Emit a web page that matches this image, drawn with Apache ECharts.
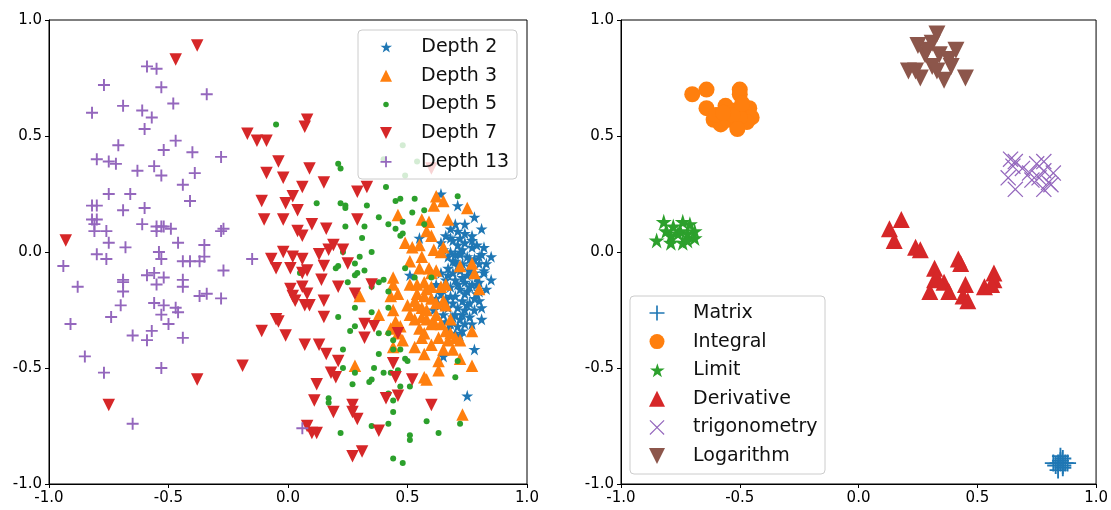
<!DOCTYPE html>
<html><head><meta charset="utf-8">
<script src="https://cdn.jsdelivr.net/npm/echarts@6/dist/echarts.min.js"></script>
<style>html,body{margin:0;padding:0;background:#fff}#c{width:1111px;height:510px}</style>
</head><body><div id="c"></div><script>
const ticks = [-1.0, -0.5, 0.0, 0.5, 1.0];

const depth2 = [[0.64,0.25],[0.71,0.20],[0.78,0.15],[0.81,0.10],[0.70,0.12],[0.74,0.12],[0.55,0.06],[0.68,0.06],[0.72,0.06],[0.77,0.05],[0.82,0.02],[0.85,-0.02],[0.85,-0.12],[0.82,-0.08],[0.69,-0.04],[0.51,-0.10],[0.80,-0.17],[0.81,-0.29],[0.78,-0.42],[0.65,-0.45],[0.75,-0.62],
[0.66,0.07],[0.69,0.05],[0.71,0.03],[0.74,0.04],[0.77,0.02],[0.79,0.03],[0.68,0.00],[0.72,-0.01],[0.75,-0.02],[0.78,-0.03],[0.81,-0.01],[0.70,-0.04],[0.73,-0.05],[0.76,-0.06],[0.80,-0.05],[0.67,-0.07],[0.69,-0.09],[0.72,-0.08],[0.75,-0.10],[0.78,-0.09],[0.82,-0.09],[0.66,-0.12],[0.70,-0.12],[0.74,-0.13],[0.77,-0.14],[0.80,-0.13],[0.68,-0.15],[0.72,-0.16],[0.75,-0.17],[0.79,-0.18],[0.64,-0.18],[0.66,-0.20],[0.70,-0.19],[0.73,-0.21],[0.76,-0.22],[0.80,-0.21],[0.63,-0.23],[0.67,-0.24],[0.71,-0.24],[0.74,-0.25],[0.78,-0.25],[0.65,-0.27],[0.69,-0.28],[0.72,-0.29],[0.76,-0.28],[0.68,-0.31],[0.71,-0.32],[0.74,-0.31],[0.70,-0.35],[0.73,-0.34],[0.62,-0.20],[0.67,-0.02],[0.74,0.08],[0.71,0.09],[0.77,0.07],[0.64,0.04],[0.83,-0.16],[0.81,-0.24],[0.66,-0.30],[0.69,-0.22],[0.73,-0.11],[0.76,-0.15],[0.71,-0.06],[0.79,-0.11],[0.64,-0.09],
[0.68,0.10],[0.73,0.01],[0.76,-0.03],[0.70,-0.01],[0.67,-0.10],[0.71,-0.14],[0.74,-0.18],[0.78,-0.20],[0.68,-0.19],[0.65,-0.22],[0.70,-0.27],[0.73,-0.27],[0.77,-0.31],[0.67,-0.33],[0.72,-0.36],[0.80,-0.02],[0.83,-0.05],[0.62,-0.14],[0.61,-0.25],[0.75,-0.23],[0.79,-0.14],[0.72,0.00],[0.65,0.01],[0.76,-0.08]];

const depth3 = [[0.62,0.24],[0.65,0.22],[0.61,0.20],[0.75,0.19],[0.46,0.16],[0.56,0.14],[0.59,0.13],[0.67,0.14],[0.49,0.04],[0.52,0.02],[0.55,0.03],[0.58,0.09],[0.60,0.07],[0.61,0.01],[0.65,0.02],[0.64,0.00],[0.51,-0.04],[0.56,-0.02],[0.59,-0.07],[0.60,-0.09],[0.62,-0.08],[0.72,-0.06],[0.77,-0.05],[0.78,-0.09],[0.44,-0.11],[0.44,-0.14],[0.51,-0.14],[0.54,-0.14],[0.57,-0.13],[0.64,-0.15],[0.66,-0.14],[0.80,-0.16],[0.30,-0.19],[0.43,-0.19],[0.46,-0.18],[0.54,-0.18],[0.57,-0.19],[0.60,-0.20],[0.62,-0.22],[0.65,-0.21],[0.54,-0.23],[0.56,-0.24],[0.44,-0.25],[0.38,-0.27],[0.51,-0.27],[0.53,-0.29],[0.56,-0.28],[0.58,-0.29],[0.62,-0.27],[0.61,-0.30],[0.64,-0.31],[0.45,-0.30],[0.57,-0.35],[0.48,-0.38],[0.53,-0.41],[0.56,-0.37],[0.63,-0.37],[0.67,-0.38],[0.72,-0.38],[0.77,-0.34],[0.70,-0.37],[0.69,-0.42],[0.57,-0.44],[0.63,-0.47],[0.72,-0.46],[0.77,-0.49],[0.63,-0.51],[0.28,-0.49],[0.58,-0.55],[0.57,-0.54],[0.73,-0.70],[0.44,-0.41],[0.46,-0.35],[0.43,-0.33],[0.58,-0.25],[0.68,-0.35],[0.65,-0.42],[0.60,-0.31],[0.66,-0.34],
[0.55,-0.07],[0.58,-0.16],[0.53,-0.21],[0.60,-0.15],[0.50,-0.23],[0.47,-0.32],[0.55,-0.33],[0.60,-0.40],[0.68,-0.29],[0.66,-0.23]];

const depth5 = [[-0.05,0.55],[0.21,0.38],[0.22,0.36],[0.41,0.28],[0.53,0.23],[0.45,0.22],[0.47,0.23],[0.71,0.24],[0.12,0.21],[0.22,0.21],[0.24,0.20],[0.24,0.19],[0.33,0.20],[0.52,0.17],[0.57,0.18],[0.38,0.15],[0.42,0.12],[0.48,0.13],[0.57,0.12],[0.24,0.11],[0.32,0.11],[0.45,0.10],[0.47,0.07],[0.48,0.08],[0.31,0.06],[0.35,0.00],[0.23,0.00],[0.30,-0.02],[0.28,-0.05],[0.32,-0.08],[0.20,-0.07],[0.21,-0.06],[0.29,-0.09],[0.28,-0.10],[0.25,-0.13],[0.38,-0.13],[0.40,-0.12],[0.35,-0.15],[0.49,-0.07],[0.60,-0.11],[0.53,-0.11],[0.42,-0.17],[0.42,-0.24],[0.28,-0.24],[0.35,-0.26],[0.21,-0.28],[0.28,-0.32],[0.26,-0.34],[0.42,-0.35],[0.38,-0.35],[0.44,-0.38],[0.44,-0.42],[0.47,-0.42],[0.23,-0.42],[0.38,-0.44],[0.49,-0.46],[0.50,-0.47],[0.71,-0.47],[0.23,-0.50],[0.36,-0.50],[0.28,-0.52],[0.40,-0.52],[0.43,-0.52],[0.46,-0.51],[0.35,-0.55],[0.34,-0.56],[0.47,-0.58],[0.51,-0.58],[0.70,-0.54],[0.27,-0.57],[0.42,-0.61],[0.44,-0.64],[0.17,-0.63],[0.17,-0.65],[0.44,-0.69],[0.42,-0.74],[0.35,-0.75],[0.22,-0.78],[0.58,-0.73],[0.72,-0.74],[0.51,-0.79],[0.51,-0.81],[0.63,-0.78],[0.44,-0.89],[0.48,-0.91],[0.05,-0.09],[0.48,0.46],[0.40,0.40],[0.49,0.33],[0.54,0.39]];

const depth7 = [[-0.38,0.89],[-0.47,0.83],[-0.17,0.51],[-0.13,0.48],[-0.09,0.48],[0.08,0.57],[0.07,0.54],[-0.04,0.39],[0.09,0.36],[-0.09,0.34],[-0.02,0.32],[0.15,0.30],[0.06,0.28],[0.29,0.26],[0.33,0.28],[-0.11,0.22],[-0.01,0.21],[0.02,0.24],[0.04,0.18],[-0.10,0.14],[-0.02,0.14],[0.10,0.12],[0.04,0.09],[0.06,0.07],[0.16,0.10],[0.29,0.14],[0.19,0.03],[0.23,0.01],[0.17,0.01],[-0.07,-0.03],[-0.02,0.00],[0.02,-0.02],[0.06,-0.03],[0.13,-0.01],[-0.05,-0.07],[0.01,-0.07],[0.06,-0.09],[0.08,-0.08],[0.15,-0.06],[0.25,-0.05],[0.35,-0.14],[0.21,-0.15],[0.14,-0.12],[0.01,-0.16],[0.06,-0.15],[0.02,-0.19],[0.08,-0.18],[0.15,-0.21],[0.03,-0.21],[0.07,-0.23],[0.09,-0.23],[0.28,-0.18],[0.15,-0.28],[-0.05,-0.29],[-0.04,-0.30],[-0.11,-0.34],[-0.01,-0.36],[0.32,-0.31],[0.36,-0.32],[0.32,-0.37],[0.07,-0.40],[0.13,-0.40],[0.16,-0.44],[0.46,-0.35],[0.44,-0.48],[0.21,-0.47],[0.18,-0.52],[0.20,-0.54],[0.45,-0.54],[0.52,-0.55],[0.12,-0.57],[0.11,-0.64],[0.19,-0.69],[0.27,-0.66],[0.27,-0.69],[0.29,-0.72],[0.41,-0.63],[0.46,-0.62],[0.60,-0.66],[0.38,-0.77],[0.08,-0.75],[0.10,-0.78],[0.12,-0.78],[0.27,-0.88],[0.31,-0.86],[-0.38,-0.55],[-0.19,-0.49],[-0.75,-0.66],[-0.93,0.05],[0.60,0.36]];

const depth13 = [[-0.59,0.80],[-0.55,0.79],[-0.77,0.72],[-0.53,0.71],[-0.34,0.68],[-0.48,0.64],[-0.69,0.63],[-0.82,0.60],[-0.61,0.61],[-0.57,0.58],[-0.60,0.53],[-0.47,0.48],[-0.71,0.46],[-0.52,0.44],[-0.40,0.43],[-0.28,0.41],[-0.80,0.40],[-0.75,0.39],[-0.72,0.38],[-0.63,0.35],[-0.56,0.37],[-0.53,0.33],[-0.39,0.34],[-0.44,0.29],[-0.75,0.25],[-0.66,0.25],[-0.41,0.22],[-0.82,0.20],[-0.80,0.20],[-0.60,0.19],[-0.69,0.18],[-0.82,0.14],[-0.80,0.14],[-0.81,0.12],[-0.61,0.12],[-0.55,0.11],[-0.52,0.11],[-0.49,0.10],[-0.28,0.09],[-0.27,0.10],[-0.81,0.09],[-0.76,0.09],[-0.75,0.04],[-0.53,0.11],[-0.55,0.09],[-0.46,0.04],[-0.68,0.02],[-0.35,0.03],[-0.54,0.00],[-0.80,-0.01],[-0.76,-0.03],[-0.53,-0.03],[-0.44,-0.04],[-0.41,-0.04],[-0.37,-0.04],[-0.35,-0.02],[-0.94,-0.06],[-0.15,-0.03],[-0.27,-0.08],[-0.69,-0.12],[-0.69,-0.13],[-0.52,-0.11],[-0.59,-0.10],[-0.56,-0.09],[-0.44,-0.12],[-0.69,-0.17],[-0.88,-0.15],[-0.55,-0.14],[-0.44,-0.15],[-0.34,-0.18],[-0.37,-0.19],[-0.28,-0.20],[-0.56,-0.22],[-0.52,-0.23],[-0.47,-0.24],[-0.46,-0.26],[-0.70,-0.23],[-0.53,-0.27],[-0.50,-0.31],[-0.74,-0.28],[-0.91,-0.31],[-0.57,-0.34],[-0.65,-0.36],[-0.59,-0.38],[-0.44,-0.37],[-0.85,-0.45],[-0.77,-0.52],[-0.53,-0.50],[-0.65,-0.74],[0.06,-0.76]];

const matrix = [[0.84,-0.91],[0.85,-0.90],[0.86,-0.92],[0.83,-0.92],[0.87,-0.91],[0.82,-0.91],[0.85,-0.88],[0.86,-0.93],[0.84,-0.94],[0.88,-0.91],[0.85,-0.91],[0.86,-0.89]];
const integral = [[-0.70,0.68],[-0.64,0.70],[-0.50,0.70],[-0.50,0.68],[-0.64,0.62],[-0.56,0.63],[-0.46,0.62],[-0.45,0.58],[-0.52,0.61],[-0.61,0.57],[-0.58,0.55],[-0.55,0.57],[-0.51,0.54],[-0.47,0.56],[-0.50,0.58],[-0.53,0.59],[-0.60,0.59],[-0.57,0.60],[-0.49,0.64],[-0.51,0.53]];
const limit = [[-0.85,0.05],[-0.82,0.13],[-0.79,0.07],[-0.79,0.04],[-0.74,0.13],[-0.74,0.04],[-0.71,0.12],[-0.69,0.06],[-0.69,0.09],[-0.76,0.08],[-0.72,0.08],[-0.75,0.09],[-0.72,0.05],[-0.81,0.09],[-0.78,0.11]];
const derivative = [[0.13,0.10],[0.18,0.14],[0.15,0.05],[0.24,0.02],[0.26,0.01],[0.32,-0.07],[0.42,-0.03],[0.43,-0.05],[0.30,-0.17],[0.32,-0.12],[0.36,-0.13],[0.38,-0.17],[0.45,-0.14],[0.44,-0.19],[0.46,-0.21],[0.53,-0.15],[0.57,-0.09],[0.57,-0.12],[0.56,-0.14],[0.33,-0.11]];
const trig = [[0.64,0.40],[0.66,0.39],[0.65,0.37],[0.66,0.27],[0.63,0.32],[0.72,0.34],[0.75,0.38],[0.78,0.39],[0.78,0.35],[0.76,0.32],[0.80,0.30],[0.78,0.27],[0.81,0.29],[0.82,0.34],[0.73,0.31],[0.69,0.36]];
const logarithm = [[0.33,0.94],[0.25,0.89],[0.31,0.90],[0.41,0.87],[0.28,0.85],[0.34,0.85],[0.38,0.83],[0.21,0.78],[0.26,0.75],[0.31,0.80],[0.33,0.78],[0.36,0.74],[0.45,0.75],[0.39,0.80],[0.24,0.78],[0.29,0.87]];

const STAR = 'path://M0,-10 L2.245,-3.09 L9.511,-3.09 L3.633,1.18 L5.878,8.09 L0,3.82 L-5.878,8.09 L-3.633,1.18 L-9.511,-3.09 L-2.245,-3.09 Z';
const TRI_UP = 'path://M0,-10 L10,10 L-10,10 Z';
const TRI_DOWN = 'path://M-10,-10 L10,-10 L0,10 Z';
function plusPath(h){return `path://M${-h},-10 L${h},-10 L${h},${-h} L10,${-h} L10,${h} L${h},${h} L${h},10 L${-h},10 L${-h},${h} L-10,${h} L-10,${-h} L${-h},${-h} Z`;}
function xPath(a){return `path://M${-10+a},-10 L0,${-a} L${10-a},-10 L10,${-10+a} L${a},0 L10,${10-a} L${10-a},10 L0,${a} L${-10+a},10 L-10,${10-a} L${-a},0 L-10,${-10+a} Z`;}

const F = 'DejaVu Sans';
const leftItems = [
  {name:'Depth 2', data:depth2, symbol:STAR, size:12, lsize:11, color:'#1f77b4'},
  {name:'Depth 3', data:depth3, symbol:TRI_UP, size:12.5, lsize:12, color:'#ff7f0e'},
  {name:'Depth 5', data:depth5, symbol:'circle', size:6, lsize:5.5, color:'#2ca02c'},
  {name:'Depth 7', data:depth7, symbol:TRI_DOWN, size:12.5, lsize:12, color:'#d62728'},
  {name:'Depth 13', data:depth13, symbol:plusPath(1.6), size:12, lsize:11, color:'#9467bd'}
];
const rightItems = [
  {name:'Matrix', data:matrix, symbol:plusPath(1.1), size:17, lsize:15, color:'#1f77b4'},
  {name:'Integral', data:integral, symbol:'circle', size:16, lsize:15, color:'#ff7f0e'},
  {name:'Limit', data:limit, symbol:STAR, size:16, lsize:14, color:'#2ca02c'},
  {name:'Derivative', data:derivative, symbol:TRI_UP, size:17, lsize:16, color:'#d62728'},
  {name:'trigonometry', data:trig, symbol:xPath(1.1), size:16, lsize:15, color:'#9467bd'},
  {name:'Logarithm', data:logarithm, symbol:TRI_DOWN, size:17, lsize:16, color:'#8c564b'}
];

function axis(gi){
  return {gridIndex:gi, type:'value', min:ticks[0], max:ticks[ticks.length-1], interval:0.5,
    axisLine:{show:true, onZero:false, lineStyle:{color:'#000', width:1}},
    axisTick:{show:true, length:4, lineStyle:{color:'#000'}},
    axisLabel:{formatter:v=>v.toFixed(1), color:'#000', fontSize:15, fontFamily:F, margin:7},
    splitLine:{show:false}};
}

const series = [];
const legends = [];
function addItems(items, gi, iconX, textX, cy0, gap){
  items.forEach((it,i)=>{
    series.push({name:it.name, type:'scatter', xAxisIndex:gi, yAxisIndex:gi, data:it.data,
      symbol:it.symbol, symbolSize:it.size,
      itemStyle:{color:it.color, opacity:1}, emphasis:{disabled:true}, silent:true});
    legends.push({data:[{name:it.name, icon:it.symbol}], left:iconX - it.lsize/2, top:cy0 + i*gap - 10,
      itemWidth:(textX-iconX-5)*2, itemHeight:it.lsize, padding:0, selectedMode:false,
      textStyle:{fontSize:19, lineHeight:20, color:'#111', fontFamily:F}});
  });
}
addItems(leftItems, 0, 386, 421, 47, 28.7);
addItems(rightItems, 1, 657, 693, 313, 28.6);

const chart = echarts.init(document.getElementById('c'), null, {renderer:'canvas'});
chart.setOption({
  animation:false,
  backgroundColor:'#fff',
  grid:[{left:49, top:20, width:478, height:464, show:true, borderColor:'#000', borderWidth:1},
        {left:621, top:20, width:479, height:464, show:true, borderColor:'#000', borderWidth:1}],
  xAxis:[axis(0), axis(1)],
  yAxis:[axis(0), axis(1)],
  legend:legends,
  graphic:{elements:[
    {type:'rect', z:3, shape:{x:358, y:30, width:159, height:149, r:4}, style:{fill:'rgba(255,255,255,0.8)', stroke:'#cccccc', lineWidth:1}},
    {type:'rect', z:3, shape:{x:630, y:296, width:195, height:178, r:4}, style:{fill:'rgba(255,255,255,0.8)', stroke:'#cccccc', lineWidth:1}}
  ]},
  series:series
});
</script></body></html>
